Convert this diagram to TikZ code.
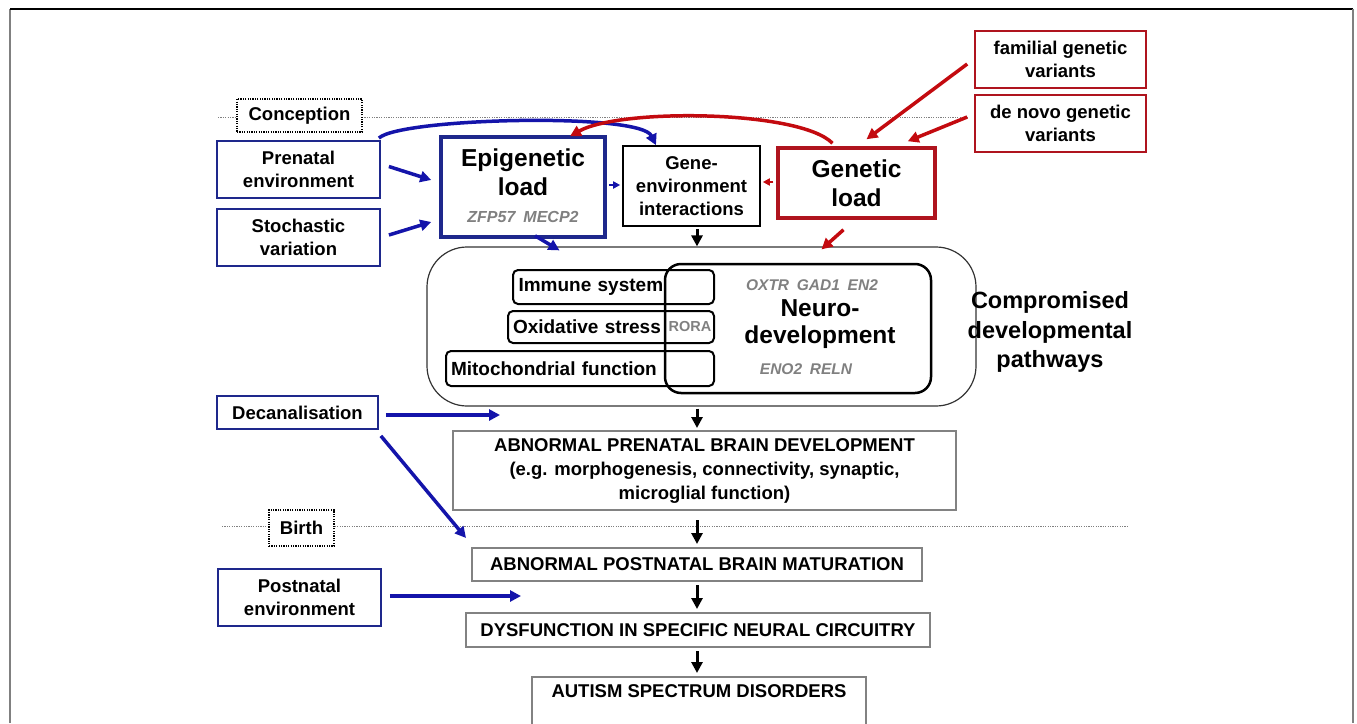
\documentclass[tikz,border=0pt]{standalone}
\usepackage{fontspec}
\setmainfont{Liberation Sans}
\usetikzlibrary{arrows.meta,calc}
\definecolor{bbord}{RGB}{30,40,140}
\definecolor{barrc}{RGB}{20,20,170}
\definecolor{rbord}{RGB}{175,20,30}
\definecolor{rarrc}{RGB}{195,10,15}
\definecolor{gtxt}{RGB}{128,128,128}
\definecolor{gbord}{RGB}{130,130,130}
\begin{document}
\begin{tikzpicture}[x=1pt,y=-1pt,
  txt/.style={inner sep=0pt, align=center, font={\fontsize{18.5}{23}\selectfont\bfseries}},
  box/.style={txt, draw, fill=white},
  bluebox/.style={box, draw=bbord, line width=1.8pt},
  redbox/.style={box, draw=rbord, line width=1.6pt},
  graybox/.style={box, draw=gbord, line width=2pt},
  dotbox/.style={box, draw=black, line width=1.4pt, dash pattern=on 1.2pt off 1.2pt},
  dotline/.style={draw=gray, line width=1pt, dash pattern=on 1.2pt off 1.2pt},
  smallbox/.style={txt, draw=black, line width=2pt, rounded corners=5pt, align=left},
  gene/.style={inner sep=0pt, text=gtxt, font={\fontsize{15.5}{18}\selectfont\bfseries\itshape}},
  barr/.style={draw=barrc, line width=3.5pt, -{Triangle[length=11pt,width=11pt]}},
  barrs/.style={draw=barrc, line width=2.2pt, -{Triangle[length=7pt,width=7pt]}},
  rarr/.style={draw=rarrc, line width=3.5pt, -{Triangle[length=11pt,width=11pt]}},
  rarrs/.style={draw=rarrc, line width=2.2pt, -{Triangle[length=7pt,width=7pt]}},
  karr/.style={draw=black, line width=3pt, -{Triangle[length=11pt,width=11pt]}}]
\useasboundingbox (0,0) rectangle (1357,723);
% outer frame
\draw[gray, line width=2pt] (10,723) -- (10,9);
\draw[black, line width=1.5pt] (10,9) -- (1353,9);
\draw[gray, line width=2pt] (1353,9) -- (1353,723);
% time lines
\draw[dotline] (218,117) -- (968,117);
\draw[dotline] (222,526) -- (1128,526);
\node[dotbox, minimum width=125pt, minimum height=33pt] (conc) at (299.5,115.5) {Conception};
\node[dotbox, minimum width=65pt, minimum height=36pt] (birth) at (301.5,528) {Birth};
% top boxes
\node[bluebox, minimum width=163pt, minimum height=57pt] (prenat) at (298.5,169.5) {Prenatal\\environment};
\node[bluebox, minimum width=163pt, minimum height=57pt] (stoch) at (298.5,237.5) {Stochastic\\variation};
\node[box, draw=bbord, line width=3.5pt, minimum width=164pt, minimum height=100pt] (epi) at (523,187) {};
\node[txt, font={\fontsize{24.5}{29}\selectfont\bfseries}] (epitxt) at (523,172) {Epigenetic\\load};
\node[gene, font={\fontsize{16}{18}\selectfont\bfseries\itshape}] (epigenes) at (523,217) {ZFP57\,\,\,MECP2};
\node[box, line width=1.6pt, minimum width=137pt, minimum height=80pt] (gxe) at (691.5,186) {Gene-\\environment\\interactions};
\node[box, draw=rbord, line width=3.5pt, minimum width=157pt, minimum height=70pt, font={\fontsize{24.5}{29}\selectfont\bfseries}] (gen) at (856.5,183) {Genetic\\load};
\node[redbox, minimum width=171pt, minimum height=57pt] (fam) at (1060.5,59.5) {familial genetic\\variants};
\node[redbox, minimum width=171pt, minimum height=57pt] (denovo) at (1060.5,123.5) {de novo genetic\\variants};
% compromised pathways
\node[draw=black!80, line width=1.2pt, rounded corners=40pt, minimum width=549pt, minimum height=159pt, inner sep=0pt] (comp) at (701.5,326.5) {};
\node[draw=black, line width=2.5pt, rounded corners=16pt, minimum width=266pt, minimum height=129pt, inner sep=0pt] (neuro) at (798,328.5) {};
\node[smallbox, minimum width=201pt, minimum height=34pt, text width=190pt, font={\fontsize{19}{23}\selectfont\bfseries}] (immune) at (613.5,287) {Immune system};
\node[smallbox, minimum width=206pt, minimum height=32pt, text width=196pt, font={\fontsize{19}{23}\selectfont\bfseries}] (oxid) at (611,327) {Oxidative stress};
\node[smallbox, minimum width=268pt, minimum height=35pt, text width=258pt, font={\fontsize{19}{23}\selectfont\bfseries}] (mito) at (580,368.5) {Mitochondrial function};
\node[inner sep=0pt, text=gtxt, font={\fontsize{14.5}{16}\selectfont\bfseries}] (rora) at (690,327) {RORA};
\node[gene] (neurog1) at (812,285) {OXTR\,\,\,GAD1\,\,\,EN2};
\node[txt, font={\fontsize{24.5}{27}\selectfont\bfseries}] (neurotxt) at (820,324.5) {Neuro-\\development};
\node[gene] (neurog2) at (806,369) {ENO2\,\,\,RELN};
\node[txt, font={\fontsize{23.5}{29.5}\selectfont\bfseries}] (comptxt) at (1050,332) {Compromised\\developmental\\pathways};
% lower chain
\node[bluebox, minimum width=161pt, minimum height=33pt] (decan) at (297.5,412.5) {Decanalisation};
\node[graybox, minimum width=503pt, minimum height=79pt, font={\fontsize{18.5}{24}\selectfont\bfseries}] (prenbrain) at (704.5,470.5) {ABNORMAL PRENATAL BRAIN DEVELOPMENT\\(e.g. morphogenesis, connectivity, synaptic,\\microglial function)};
\node[graybox, minimum width=450pt, minimum height=33pt] (postmat) at (697,564.5) {ABNORMAL POSTNATAL BRAIN MATURATION};
\node[bluebox, minimum width=163pt, minimum height=57pt] (postenv) at (299.5,597.5) {Postnatal\\environment};
\node[graybox, minimum width=464pt, minimum height=34pt] (dysf) at (698,630) {DYSFUNCTION IN SPECIFIC NEURAL CIRCUITRY};
\node[graybox, minimum width=334pt, minimum height=58pt, text depth=30pt] (autism) at (699,706) {AUTISM SPECTRUM DISORDERS};
% free ends
\coordinate (ax) at (697,0);
\coordinate (decanend) at (500,415);
\coordinate (decanend2) at (466,538);
\coordinate (postend) at (521,596);
% blue arrows
\draw[barr] ($(prenat.east)+(8,-3)$) -- ($(epi.west)+(-8,-7)$);
\draw[barr] ($(stoch.east)+(8,-2.5)$) -- ($(epi.west)+(-8,35)$);
\draw[barrs] ($(epi.east)+(2,-2)$) -- ($(gxe.west)+(-2,-1)$);
\draw[barr] ($(epi.south)+(12,-3)$) -- ($(comp.north)+(-142,4)$);
\draw[barr] ($(prenat.north east)+(-2,-2)$) .. controls (400,118) and (640,112) .. ($(gxe.north)+(-35.5,0)$);
\draw[barr] ($(decan.east)+(7,2.5)$) -- (decanend);
\draw[barr] ($(decan.south east)+(2,6)$) -- (decanend2);
\draw[barr] ($(postenv.east)+(8,-1.5)$) -- (postend);
% red arrows
\draw[rarrs] ($(gen.west)+(-3,-1)$) -- ($(gxe.east)+(2,-4)$);
\draw[rarr] ($(gen.north)+(-24,-3)$) .. controls (800,110) and (620,108) .. ($(epi.north)+(47,1)$);
\draw[rarr] ($(fam.west)+(-7,4.5)$) -- ($(gen.north)+(10,-7)$);
\draw[rarr] ($(denovo.west)+(-7,-6.5)$) -- ($(gen.north east)+(-29,-5)$);
\draw[rarr] ($(gen.south)+(-13,10)$) -- ($(comp.north)+(120,3)$);
% black arrows
\draw[karr, shorten <=2pt] (gxe.south -| ax) -- (comp.north -| ax);
\draw[karr, shorten <=2pt, shorten >=2pt] (comp.south -| ax) -- (prenbrain.north -| ax);
\draw[karr, shorten <=9pt, shorten >=3pt] (prenbrain.south -| ax) -- (postmat.north -| ax);
\draw[karr, shorten <=3pt, shorten >=3pt] (postmat.south -| ax) -- (dysf.north -| ax);
\draw[karr, shorten <=3pt, shorten >=3pt] (dysf.south -| ax) -- (autism.north -| ax);
\end{tikzpicture}
\end{document}
